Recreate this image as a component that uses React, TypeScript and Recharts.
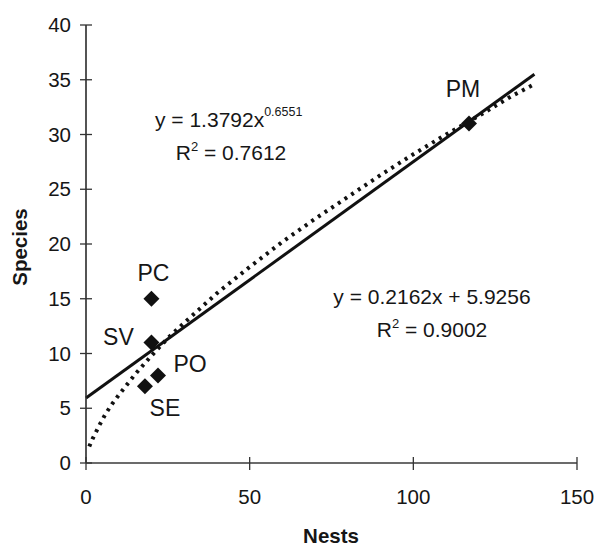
import { ComposedChart, Customized, Line, Scatter, XAxis, YAxis } from 'recharts'

// sites: nests vs species
const sites = ['PC', 'SV', 'PO', 'SE', 'PM']
const nests = [20, 20, 22, 18, 117]
const species = [15, 11, 8, 7, 31]

// linear trend line
const linearNests = [0, 137]
const linearSpecies = [5.93, 35.5]

// power trend line
const powerNests = [1, 2, 4, 6, 8, 10, 15, 20, 25, 30, 40, 50, 60, 70, 80, 90, 100, 110, 120, 130, 137]
const powerSpecies = [1.5, 2.2, 3.4, 4.5, 5.4, 6.2, 8.1, 9.8, 11.4, 12.8, 15.5, 17.9, 20.2, 22.3, 24.3, 26.3, 28.2, 30.0, 31.7, 33.5, 34.6]

const xTicks = [0, 50, 100, 150]
const yTicks = [0, 5, 10, 15, 20, 25, 30, 35, 40]

const points = sites.map((name, i) => ({ name, x: nests[i], y: species[i] }))
const linear = linearNests.map((x, i) => ({ x, y: linearSpecies[i] }))
const power = powerNests.map((x, i) => ({ x, y: powerSpecies[i] }))

const FONT = '"Liberation Sans", Arial, sans-serif'
const INK = '#161616'

// where each site name sits relative to its diamond
const labelOffset: Record<string, [number, number]> = {
  PC: [2, -26],
  SV: [-33, -6],
  PO: [32, -11],
  SE: [20, 22],
  PM: [-6, -35],
}

function Diamond(props: any) {
  const { cx, cy, payload } = props
  const r = 8
  const [dx, dy] = labelOffset[payload.name] ?? [0, -20]
  return (
    <g>
      <polygon points={`${cx},${cy - r} ${cx + r},${cy} ${cx},${cy + r} ${cx - r},${cy}`} fill="#111" />
      <text x={cx + dx} y={cy + dy} textAnchor="middle" dominantBaseline="central" fontSize={23} fontFamily={FONT} fill={INK}>
        {payload.name}
      </text>
    </g>
  )
}

function YTick({ x, y, payload }: any) {
  return (
    <g>
      <line x1={x - 6} x2={x + 6} y1={y} y2={y} stroke="#333" strokeWidth={1.3} />
      <text x={x - 15} y={y + 7} textAnchor="end" fontSize={20.5} fontFamily={FONT} fill={INK}>{payload.value}</text>
    </g>
  )
}

function XTick({ x, y, payload }: any) {
  return (
    <g>
      <line x1={x} x2={x} y1={y - 6} y2={y + 7} stroke="#333" strokeWidth={1.3} />
      <text x={x} y={y + 41} textAnchor="middle" fontSize={20.5} fontFamily={FONT} fill={INK}>{payload.value}</text>
    </g>
  )
}

function Annotations() {
  return (
    <g fontFamily={FONT} fill={INK}>
      <text x={155} y={127} fontSize={21}>
        y = 1.3792x<tspan fontSize={12.5} dy={-11}>0.6551</tspan>
      </text>
      <text x={231} y={160} fontSize={21} textAnchor="middle">
        R<tspan fontSize={13} dy={-9}>2</tspan><tspan dy={9}> = 0.7612</tspan>
      </text>
      <text x={432} y={304} fontSize={21} textAnchor="middle">y = 0.2162x + 5.9256</text>
      <text x={432} y={337} fontSize={21} textAnchor="middle">
        R<tspan fontSize={13} dy={-9}>2</tspan><tspan dy={9}> = 0.9002</tspan>
      </text>
      <text x={331} y={543} fontSize={20.5} fontWeight="bold" textAnchor="middle">Nests</text>
      <text x={27} y={247} fontSize={20.5} fontWeight="bold" textAnchor="middle" transform="rotate(-90 27 247)">Species</text>
    </g>
  )
}

export default function App() {
  return (
    <div style={{ position: 'fixed', left: 0, top: 0, width: 596, height: 546, background: '#fff' }}>
      <ComposedChart width={596} height={546} margin={{ top: 25, right: 19, bottom: 43, left: 26 }}>
        <XAxis
          type="number"
          dataKey="x"
          domain={[0, 150]}
          ticks={xTicks}
          height={40}
          tickSize={0}
          tickMargin={0}
          tickLine={false}
          axisLine={{ stroke: '#3a3a3a', strokeWidth: 1.4 }}
          tick={<XTick />}
        />
        <YAxis
          type="number"
          dataKey="y"
          domain={[0, 40]}
          ticks={yTicks}
          width={60}
          tickSize={0}
          tickMargin={0}
          tickLine={false}
          axisLine={{ stroke: '#2a2a2a', strokeWidth: 1.6 }}
          tick={<YTick />}
        />
        <Line
          data={power}
          dataKey="y"
          type="linear"
          stroke="#111"
          strokeWidth={4}
          strokeDasharray="3 5"
          dot={false}
          activeDot={false}
          isAnimationActive={false}
        />
        <Line
          data={linear}
          dataKey="y"
          type="linear"
          stroke="#111"
          strokeWidth={3}
          dot={false}
          activeDot={false}
          isAnimationActive={false}
        />
        <Scatter data={points} dataKey="y" shape={<Diamond />} isAnimationActive={false} />
        <Customized component={<Annotations />} />
      </ComposedChart>
    </div>
  )
}
